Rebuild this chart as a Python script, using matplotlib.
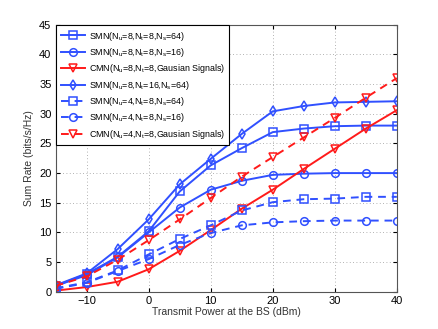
import matplotlib
matplotlib.use("Agg")
import matplotlib.pyplot as plt

x = [-15, -10, -5, 0, 5, 10, 15, 20, 25, 30, 35, 40]

smn_8_8_64 = [1.0, 3.0, 5.9, 10.2, 16.9, 21.3, 24.2, 26.9, 27.5, 27.9, 28.0, 28.0]
smn_8_8_16 = [1.0, 2.8, 5.8, 10.0, 14.2, 17.2, 18.7, 19.7, 19.9, 20.0, 20.0, 20.0]
cmn_8_8 = [0.2, 0.8, 1.7, 3.8, 6.9, 10.4, 14.0, 17.2, 20.7, 24.1, 27.5, 30.6]
smn_8_16_64 = [1.1, 3.1, 7.2, 12.2, 18.1, 22.4, 26.6, 30.4, 31.3, 31.9, 32.0, 32.1]
smn_4_8_64 = [0.6, 1.6, 3.6, 6.3, 8.9, 11.2, 13.7, 15.1, 15.6, 15.7, 16.0, 16.0]
smn_4_8_16 = [0.5, 1.5, 3.5, 5.5, 7.9, 9.9, 11.2, 11.7, 11.9, 12.0, 12.0, 12.0]
cmn_4_8 = [1.0, 2.6, 5.4, 8.7, 12.2, 15.8, 19.4, 22.7, 26.0, 29.3, 32.7, 36.0]

labels = [
    r"SMN(N$_u$=8,N$_t$=8,N$_s$=64)",
    r"SMN(N$_u$=8,N$_t$=8,N$_s$=16)",
    r"CMN(N$_u$=8,N$_t$=8,Gausian Signals)",
    r"SMN(N$_u$=8,N$_t$=16,N$_s$=64)",
    r"SMN(N$_u$=4,N$_t$=8,N$_s$=64)",
    r"SMN(N$_u$=4,N$_t$=8,N$_s$=16)",
    r"CMN(N$_u$=4,N$_t$=8,Gausian Signals)",
]

BLUE = "#3050ff"
RED = "#ff1a1a"

series = [
    (smn_8_8_64, BLUE, "-", "s"),
    (smn_8_8_16, BLUE, "-", "o"),
    (cmn_8_8, RED, "-", "v"),
    (smn_8_16_64, BLUE, "-", "d"),
    (smn_4_8_64, BLUE, "--", "s"),
    (smn_4_8_16, BLUE, "--", "o"),
    (cmn_4_8, RED, "--", "v"),
]

plt.rcParams["font.family"] = ["Liberation Sans", "DejaVu Sans"]
plt.rcParams["mathtext.fontset"] = "custom"
plt.rcParams["mathtext.rm"] = "Liberation Sans"
plt.rcParams["mathtext.it"] = "Liberation Sans"

fig = plt.figure(figsize=(4.38, 3.29), dpi=100)
ax = fig.add_axes([0.127, 0.113, 0.779, 0.812])

for (y, c, ls, m), lab in zip(series, labels):
    ax.plot(x, y, color=c, linestyle=ls, linewidth=1.4, marker=m,
            markersize=5.5, markerfacecolor="none", markeredgecolor=c,
            markeredgewidth=1.1, label=lab, dashes=(4, 3) if ls == "--" else (None, None))

ax.set_xlim(-15, 40)
ax.set_ylim(0, 45)
ax.set_xticks([-10, 0, 10, 20, 30, 40])
ax.set_xticklabels(["\u221210", "0", "10", "20", "30", "40"])
ax.set_yticks(range(0, 50, 5))
ax.tick_params(direction="in", labelsize=8, length=3, top=True, right=True,
               pad=3)
ax.grid(True, linestyle=(0, (1, 3)), color="#999999", linewidth=0.6)
for s in ax.spines.values():
    s.set_color("#555555")
    s.set_linewidth(0.8)

ax.set_xlabel("Transmit Power at the BS (dBm)", fontsize=7.5, labelpad=1,
              color="#333333")
ax.set_ylabel("Sum Rate (bits/s/Hz)", fontsize=7.5, labelpad=4,
              color="#333333")

leg = ax.legend(loc="upper left", fontsize=6.4, frameon=True, fancybox=False,
                edgecolor="black", framealpha=1, borderaxespad=0.05,
                handlelength=2.8, labelspacing=0.38, borderpad=0.5,
                handletextpad=0.4)
leg.get_frame().set_linewidth(0.8)

fig.savefig("out.png", dpi=100)
